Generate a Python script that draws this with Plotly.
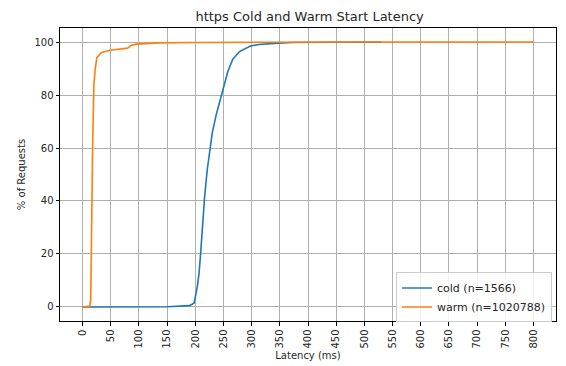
import plotly.graph_objects as go

# Cold start CDF (latency ms, % of requests)
cold_x = [0, 100, 150, 190, 198, 203.7, 206.7, 209.6, 212.5, 216.6, 221.3, 225.5, 230.2,
          237.3, 243.2, 250.8, 257.9, 266.6, 278.4, 298, 312.7, 340, 371.6, 444, 529.5]
cold_y = [0, 0, 0.1, 0.5, 1.5, 7.8, 12.8, 20.4, 30.5, 41.8, 51.9, 59.4, 65.8,
          72.7, 77.1, 83.4, 89, 93.5, 96.4, 98.5, 99.1, 99.5, 99.8, 99.9, 100]

# Warm start CDF
warm_x = [0, 13, 14.5, 15.5, 16.3, 17, 17.7, 18.5, 19.3, 20, 22.4, 25.3, 33, 48, 80,
          86, 95, 136, 200, 300, 500, 800]
warm_y = [0, 0.3, 3, 15, 30, 45, 58, 68, 77, 83.4, 89.7, 94.1, 96, 96.9, 97.7,
          98.7, 99.2, 99.7, 99.85, 99.95, 100, 100]

x_ticks = list(range(0, 801, 50))
y_ticks = [0, 20, 40, 60, 80, 100]

fig = go.Figure()
fig.add_trace(go.Scatter(x=cold_x, y=cold_y, mode="lines", name="cold (n=1566)",
                         line=dict(color="#1f77b4", width=1.6)))
fig.add_trace(go.Scatter(x=warm_x, y=warm_y, mode="lines", name="warm (n=1020788)",
                         line=dict(color="#ff7f0e", width=1.6)))

font = "DejaVu Sans, sans-serif"
fig.update_layout(
    width=566, height=366,
    margin=dict(l=60, r=10, t=28, b=45, autoexpand=False),
    paper_bgcolor="white", plot_bgcolor="white",
    font=dict(family=font, size=10, color="#262626"),
    title=dict(text="https Cold and Warm Start Latency", x=0.547, xanchor="center",
               y=0.955, yanchor="middle", font=dict(size=13, color="#262626")),
    legend=dict(x=0.992, y=-0.005, xanchor="right", yanchor="bottom",
                bgcolor="rgba(255,255,255,0.85)", bordercolor="#cccccc", borderwidth=1,
                font=dict(size=11), tracegroupgap=0),
    showlegend=True,
)
fig.update_xaxes(range=[-40, 840], tickvals=x_ticks, ticktext=[str(v) for v in x_ticks],
                 tickangle=-90, showgrid=True, gridcolor="#b0b0b0", gridwidth=0.8,
                 showline=True, linecolor="black", linewidth=1, mirror=True,
                 ticks="outside", ticklen=3.5, tickcolor="black", zeroline=False,
                 automargin=False,
                 title=dict(text="Latency (ms)", font=dict(size=10), standoff=4))
fig.update_yaxes(range=[-5.3, 105.3], tickvals=y_ticks, ticktext=[str(v) for v in y_ticks],
                 showgrid=True, gridcolor="#b0b0b0", gridwidth=0.8,
                 showline=True, linecolor="black", linewidth=1, mirror=True,
                 ticks="outside", ticklen=3.5, tickcolor="black", zeroline=False,
                 automargin=False,
                 title=dict(text="% of Requests", font=dict(size=10), standoff=6))

fig.write_html("out.html", config={"displayModeBar": False},
               post_script="document.body.style.margin='0';")
